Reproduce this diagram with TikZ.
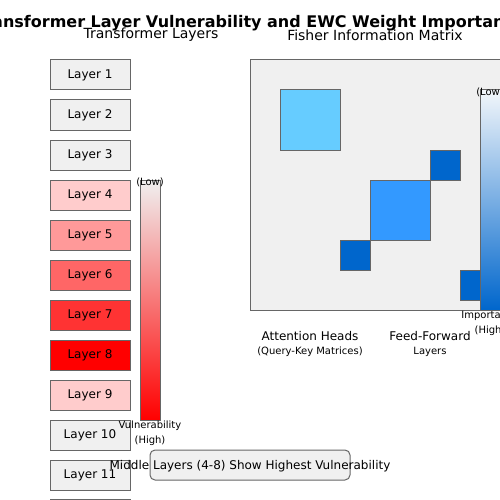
\documentclass[tikz,border=0pt]{standalone}
\usepackage{fontspec}
\setmainfont{DejaVu Sans}
\usetikzlibrary{positioning}

\definecolor{boxgray}{HTML}{F0F0F0}
\definecolor{edgegray}{HTML}{666666}
\definecolor{vulA}{HTML}{FFCCCC}
\definecolor{vulB}{HTML}{FF9999}
\definecolor{vulC}{HTML}{FF6666}
\definecolor{vulD}{HTML}{FF3333}
\definecolor{vulE}{HTML}{FF0000}
\definecolor{impA}{HTML}{66CCFF}
\definecolor{impB}{HTML}{3399FF}
\definecolor{impC}{HTML}{0066CC}

\tikzset{
  layerbox/.style={draw=edgegray, line width=1pt, minimum width=80pt, minimum height=30pt, font=\fontsize{12}{14}\selectfont, inner sep=0pt},
  blockbox/.style={draw=edgegray, line width=1pt},
  small/.style={font=\fontsize{10}{12}\selectfont, inner sep=0pt},
}

\begin{document}
\begin{tikzpicture}[x=1pt, y=-1pt]
\useasboundingbox (0,0) rectangle (500,500);
% headings
\node (title) at (250,23) [font=\fontsize{16}{19}\selectfont\bfseries, inner sep=0pt] {Transformer Layer Vulnerability and EWC Weight Importance};
\node (lefthead) at (151,35) [font=\fontsize{14}{16}\selectfont, inner sep=0pt] {Transformer Layers};
\node (righthead) at (375,35) [font=\fontsize{14}{16}\selectfont, inner sep=0pt] {Fisher Information Matrix};
% layer stack
\node (layer1) at (90,75) [layerbox, fill=boxgray] {Layer 1};
\node (layer2) at (90,115) [layerbox, fill=boxgray] {Layer 2};
\node (layer3) at (90,155) [layerbox, fill=boxgray] {Layer 3};
\node (layer4) at (90,195) [layerbox, fill=vulA] {Layer 4};
\node (layer5) at (90,235) [layerbox, fill=vulB] {Layer 5};
\node (layer6) at (90,275) [layerbox, fill=vulC] {Layer 6};
\node (layer7) at (90,315) [layerbox, fill=vulD] {Layer 7};
\node (layer8) at (90,355) [layerbox, fill=vulE] {Layer 8};
\node (layer9) at (90,395) [layerbox, fill=vulA] {Layer 9};
\node (layer10) at (90,435) [layerbox, fill=boxgray] {Layer 10};
\node (layer11) at (90,475) [layerbox, fill=boxgray] {Layer 11};
\node (layer12) at (90,514) [layerbox, fill=boxgray] {Layer 12};
% vulnerability scale
\shade [top color=boxgray, bottom color=vulE] (140,180) rectangle (160,420);
\draw [edgegray, line width=1pt] (140,180) rectangle (160,420);
\node (vullow) at (150,182) [small] {(Low)};
\node (vulname) at (150,426) [small] {Vulnerability};
\node (vulhigh) at (150,441) [small] {(High)};
% fisher matrix
\fill [boxgray] (250,60) rectangle (510,310);
\draw [edgegray, line width=1pt] (250,60) rectangle (510,310);
\fill [impA] (280,90) rectangle (340,150);
\draw [blockbox] (280,90) rectangle (340,150);
\fill [impB] (370,180) rectangle (430,240);
\draw [blockbox] (370,180) rectangle (430,240);
\fill [impC] (430,150) rectangle (460,180);
\draw [blockbox] (430,150) rectangle (460,180);
\fill [impC] (340,240) rectangle (370,270);
\draw [blockbox] (340,240) rectangle (370,270);
\fill [impC] (460,270) rectangle (490,300);
\draw [blockbox] (460,270) rectangle (490,300);
% importance scale
\shade [top color=boxgray!80!impC!20, bottom color=impC] (480,90) rectangle (500,310);
\draw [edgegray, line width=1pt] (480,90) rectangle (500,310);
\node (implow) at (490,92) [small] {(Low)};
\node (impname) at (490,316) [small] {Importance};
\node (imphigh) at (490,331) [small] {(High)};
% block captions
\node (attn) at (310,336) [font=\fontsize{12}{14}\selectfont, inner sep=0pt] {Attention Heads};
\node (attnsub) at (310,352) [small] {(Query-Key Matrices)};
\node (ffn) at (430,336) [font=\fontsize{12}{14}\selectfont, inner sep=0pt] {Feed-Forward};
\node (ffnsub) at (430,352) [small] {Layers};
% note
\draw [edgegray, line width=1pt, fill=boxgray, rounded corners=5pt] (150,450) rectangle (350,480);
\node (note) at (250,466) [font=\fontsize{12}{14}\selectfont, inner sep=0pt] {Middle Layers (4-8) Show Highest Vulnerability};
\end{tikzpicture}
\end{document}
